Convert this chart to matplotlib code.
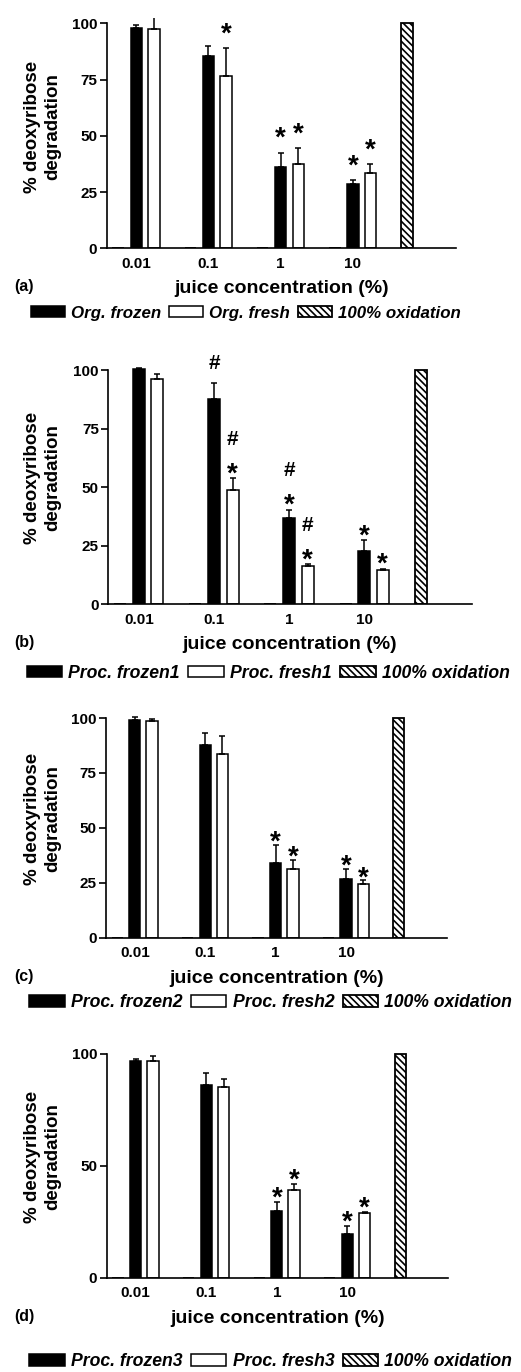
import numpy as np
import matplotlib.pyplot as plt

plt.rcParams['font.family'] = ['Liberation Sans', 'DejaVu Sans']
plt.rcParams['font.weight'] = 'bold'
plt.rcParams['hatch.linewidth'] = 1.2

# x categories; the last slot only holds the 100% oxidation control
conc = ["0.01", "0.1", "1", "10", ""]
oxidation = [0, 0, 0, 0, 100]

# (a) organic juices
a_frozen = [97.8, 85.6, 36.1, 28.4]
a_frozen_sem = [1.3, 4.3, 6.3, 1.8]
a_fresh = [97.5, 76.4, 37.3, 33.5]
a_fresh_sem = [6.0, 12.5, 7.1, 3.8]
a_frozen_sig = ["", "", "*", "*"]
a_fresh_sig = ["", "*", "*", "*"]
a_names = ["Org. frozen", "Org. fresh", "100% oxidation"]

# (b) processed juices 1
b_frozen = [100.3, 87.6, 37.0, 22.9]
b_frozen_sem = [0.4, 6.7, 3.4, 4.4]
b_fresh = [96.3, 48.8, 16.5, 14.7]
b_fresh_sem = [2.1, 5.0, 0.6, 0.4]
b_frozen_sig = ["", "#", "*#", "*"]
b_fresh_sig = ["", "*#", "*#", "*"]
b_names = ["Proc. frozen1", "Proc. fresh1", "100% oxidation"]

# (c) processed juices 2
c_frozen = [99.2, 87.6, 33.8, 26.9]
c_frozen_sem = [1.3, 5.7, 8.4, 4.5]
c_fresh = [98.5, 83.6, 31.4, 24.3]
c_fresh_sem = [1.0, 8.4, 4.1, 1.8]
c_frozen_sig = ["", "", "*", "*"]
c_fresh_sig = ["", "", "*", "*"]
c_names = ["Proc. frozen2", "Proc. fresh2", "100% oxidation"]

# (d) processed juices 3
d_frozen = [96.9, 86.0, 29.6, 19.3]
d_frozen_sem = [0.7, 5.2, 4.3, 3.8]
d_fresh = [96.9, 85.3, 39.0, 28.7]
d_fresh_sem = [2.0, 3.5, 3.0, 0.5]
d_frozen_sig = ["", "", "*", "*"]
d_fresh_sig = ["", "", "*", "*"]
d_names = ["Proc. frozen3", "Proc. fresh3", "100% oxidation"]

W, H = 521, 1372
YTOP = 102.5
fig = plt.figure(figsize=(W / 100, H / 100), dpi=100)

SIG_SIZE = {"*": 20, "#": 15}
SIG_INK = {"*": 0.58, "#": 0.36}  # ink centre above baseline, in em


def draw_panel(rect, frozen, frozen_sem, fresh, fresh_sem, frozen_sig, fresh_sig,
               names, letter, yticks, gap, leg_pos, leg_size):
    left, right, y100, y0 = rect
    hpx = (y0 - y100) * YTOP / 100
    ax = fig.add_axes([left / W, 1 - y0 / H, (right - left) / W, hpx / H])

    x = np.arange(len(conc))
    xs = x[:len(frozen)]
    w = 0.16
    ox = ax.bar(x - 0.25, oxidation, w, color="white", edgecolor="black",
                hatch="\\\\\\\\\\", linewidth=1.3)
    fz = ax.bar(xs, frozen, w, color="black", edgecolor="black", linewidth=1.1)
    fr = ax.bar(xs + 0.245, fresh, w, color="white", edgecolor="black", linewidth=1.1)
    zeros = np.zeros(len(frozen))
    ax.errorbar(xs, frozen, yerr=[zeros, frozen_sem], fmt="none", ecolor="black",
                elinewidth=1.1, capsize=2.5, capthick=1.1, zorder=1)
    ax.errorbar(xs + 0.245, fresh, yerr=[zeros, fresh_sem], fmt="none", ecolor="black",
                elinewidth=1.1, capsize=2.5, capthick=1.1, zorder=1)

    for xx, vals, sems, sigs in [(xs, frozen, frozen_sem, frozen_sig),
                                 (xs + 0.245, fresh, fresh_sem, fresh_sig)]:
        for xi, v, s, sig in zip(xx, vals, sems, sigs):
            for k, ch in enumerate(sig):
                px = (gap[ch] if k == 0 else gap["*"] + 28 * k)
                fs = SIG_SIZE[ch]
                off = px / 1.389 - SIG_INK[ch] * fs
                ax.annotate(ch, (xi, v + s), xytext=(0, off), textcoords="offset points",
                            ha="center", va="baseline", fontsize=fs, fontweight="bold",
                            annotation_clip=False)

    ax.set_xlim(-0.41, 4.43)
    ax.set_ylim(0, YTOP)
    for s in ["top", "right"]:
        ax.spines[s].set_visible(False)
    for s in ["left", "bottom"]:
        ax.spines[s].set_linewidth(1.2)
    ax.spines["left"].set_bounds(0, 100)
    ax.set_yticks(yticks)
    ax.set_xticks(xs)
    ax.set_xticklabels(conc[:len(frozen)])
    ax.tick_params(axis="y", direction="out", length=4.8, width=1.2, pad=2, labelsize=11)
    ax.tick_params(axis="x", length=0, pad=6, labelsize=11)
    for t in ax.get_xticklabels() + ax.get_yticklabels():
        t.set_fontweight("bold")

    ax.set_xlabel("juice concentration (%)", fontsize=14, fontweight="bold")
    ax.xaxis.set_label_coords(0.5, -32 / hpx)
    ax.set_ylabel("% deoxyribose\ndegradation", fontsize=13.5, fontweight="bold")
    ax.yaxis.set_label_coords((61 - left) / (right - left), 54 / YTOP)

    fig.text(14 / W, 1 - (y0 + 38.5) / H, letter, fontsize=11.5, fontweight="bold",
             va="center")

    fig.legend([fz, fr, ox], names, loc="center left", ncol=3, frameon=False,
               bbox_to_anchor=(leg_pos[0] / W, 1 - leg_pos[1] / H),
               borderpad=0, borderaxespad=0, handlelength=2.0, handleheight=0.6,
               handletextpad=0.35, columnspacing=0.5,
               prop={"style": "italic", "weight": "bold", "size": leg_size})
    return ax


draw_panel((106.7, 456, 23.3, 248.3), a_frozen, a_frozen_sem, a_fresh, a_fresh_sem,
           a_frozen_sig, a_fresh_sig, a_names, "(a)", [0, 25, 50, 75, 100],
           {"*": 23}, (30.7, 313.3), 12.2)
draw_panel((108.3, 471.7, 370, 604.3), b_frozen, b_frozen_sem, b_fresh, b_fresh_sem,
           b_frozen_sig, b_fresh_sig, b_names, "(b)", [0, 25, 50, 75, 100],
           {"*": 13, "#": 21.7}, (26.7, 673.5), 12.7)
draw_panel((106, 446.7, 718, 937.7), c_frozen, c_frozen_sem, c_fresh, c_fresh_sem,
           c_frozen_sig, c_fresh_sig, c_names, "(c)", [0, 25, 50, 75, 100],
           {"*": 11}, (29.3, 1002.7), 12.7)
draw_panel((106.7, 448.3, 1053.7, 1277.7), d_frozen, d_frozen_sem, d_fresh, d_fresh_sem,
           d_frozen_sig, d_fresh_sig, d_names, "(d)", [0, 50, 100],
           {"*": 12.5}, (29.3, 1361.7), 12.7)

fig.savefig("out.png", dpi=100)
